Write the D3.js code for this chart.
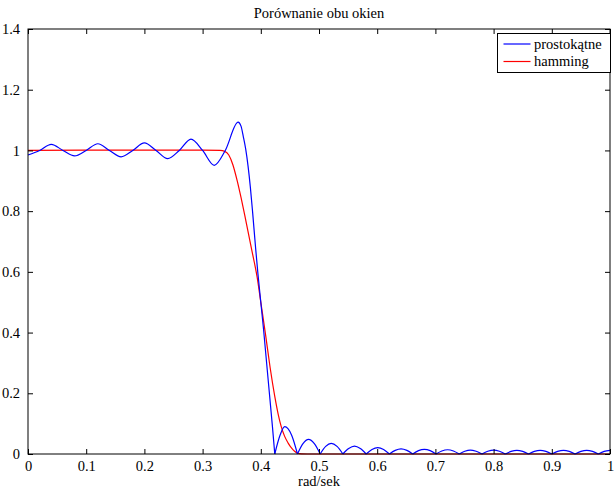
<!DOCTYPE html>
<html>
<head>
<meta charset="utf-8">
<script src="https://cdn.jsdelivr.net/npm/d3@7"></script>
<style>
  html, body { margin: 0; padding: 0; background: #fff; }
  svg { display: block; }
  text { font-family: "Liberation Serif", "Times New Roman", serif; fill: #000; }
</style>
</head>
<body>
<div id="chart"></div>
<script>
// Frequency response magnitude: rectangular window vs. Hamming window
const titleText = "Porównanie obu okien";
const xLabelText = "rad/sek";
const seriesNames = ["prostokątne", "hamming"];

const xTicks = [0, 0.1, 0.2, 0.3, 0.4, 0.5, 0.6, 0.7, 0.8, 0.9, 1];
const xTickLabels = ["0", "0.1", "0.2", "0.3", "0.4", "0.5", "0.6", "0.7", "0.8", "0.9", "1"];
const yTicks = [0, 0.2, 0.4, 0.6, 0.8, 1, 1.2, 1.4];
const yTickLabels = ["0", "0.2", "0.4", "0.6", "0.8", "1", "1.2", "1.4"];

// rectangular window: [frequency, |H|]
const rectFreq = [
  0.000, 0.020, 0.040, 0.060, 0.080, 0.100, 0.120, 0.140, 0.160, 0.180,
  0.200, 0.220, 0.240, 0.260, 0.280, 0.300, 0.320, 0.339, 0.361, 0.366,
  0.370, 0.374, 0.378, 0.382, 0.386, 0.391, 0.395, 0.400, 0.405, 0.410,
  0.415, 0.420, 0.424,
  0.4335, 0.441, 0.453, 0.463,
  0.4725, 0.482, 0.492, 0.502,
  0.5115, 0.521, 0.531, 0.541,
  0.551, 0.561, 0.571, 0.581,
  0.591, 0.601, 0.611, 0.621,
  0.631, 0.641, 0.651, 0.661,
  0.671, 0.681, 0.691, 0.701,
  0.711, 0.721, 0.731, 0.741,
  0.7505, 0.760, 0.770, 0.780,
  0.790, 0.800, 0.810, 0.820,
  0.830, 0.840, 0.850, 0.860,
  0.870, 0.880, 0.890, 0.900,
  0.910, 0.920, 0.930, 0.940,
  0.950, 0.960, 0.970, 0.980,
  0.990, 1.000
];
const rectMag = [
  0.985, 1.000, 1.020, 1.000, 0.982, 1.000, 1.022, 1.000, 0.979, 1.000,
  1.025, 1.000, 0.973, 1.000, 1.037, 1.000, 0.951, 1.000, 1.093, 1.080,
  1.045, 1.005, 0.950, 0.880, 0.795, 0.680, 0.595, 0.500, 0.405, 0.300,
  0.195, 0.090, 0.000,
  0.064, 0.090, 0.062, 0.000,
  0.034, 0.048, 0.034, 0.000,
  0.025, 0.035, 0.025, 0.000,
  0.018, 0.026, 0.018, 0.000,
  0.015, 0.021, 0.015, 0.000,
  0.012, 0.017, 0.012, 0.000,
  0.011, 0.015, 0.011, 0.000,
  0.010, 0.014, 0.010, 0.000,
  0.009, 0.013, 0.009, 0.000,
  0.009, 0.013, 0.009, 0.000,
  0.0085, 0.012, 0.0085, 0.000,
  0.0085, 0.012, 0.0085, 0.000,
  0.0085, 0.012, 0.0085, 0.000,
  0.0085, 0.012, 0.0085, 0.000,
  0.0085, 0.012
];

// Hamming window: [frequency, |H|]
const hammFreq = [
  0.000, 0.100, 0.200, 0.300, 0.330, 0.338, 0.345, 0.352, 0.3597, 0.366,
  0.3723, 0.378, 0.3838, 0.389, 0.3935, 0.400, 0.4084, 0.416, 0.424, 0.430,
  0.435, 0.441, 0.447, 0.453, 0.458, 0.463, 0.470, 0.480, 1.000
];
const hammMag = [
  1.000, 1.001, 1.001, 1.001, 1.000, 0.997, 0.985, 0.953, 0.898, 0.845,
  0.788, 0.733, 0.678, 0.630, 0.585, 0.500, 0.390, 0.285, 0.190, 0.130,
  0.091, 0.058, 0.036, 0.019, 0.009, 0.003, 0.0005, 0.000, 0.000
];

const W = 614, H = 488;
const margin = { left: 28, right: 4, top: 29, bottom: 34 };

const svg = d3.select("#chart").append("svg")
  .attr("width", W).attr("height", H);

const x = d3.scaleLinear().domain([0, 1]).range([margin.left, W - margin.right]);
const y = d3.scaleLinear().domain([0, 1.4]).range([H - margin.bottom, margin.top]);

const fontSize = 14.5;
const tickLen = 5;

// series lines
const rectPts = rectFreq.map((f, i) => [f, rectMag[i]]);
const hammPts = hammFreq.map((f, i) => [f, hammMag[i]]);

// break the rectangular-window curve at its nulls so they stay sharp
function splitAtNulls(pts) {
  const segs = [];
  let cur = [];
  pts.forEach((p, i) => {
    cur.push(p);
    if (p[1] === 0 && i > 0 && i < pts.length - 1) {
      segs.push(cur);
      cur = [p];
    }
  });
  if (cur.length > 1) segs.push(cur);
  return segs;
}

const line = d3.line()
  .x(d => x(d[0]))
  .y(d => y(d[1]))
  .curve(d3.curveMonotoneX);

const plot = svg.append("g");

plot.append("path")
  .datum(hammPts)
  .attr("d", line)
  .attr("fill", "none")
  .attr("stroke", "#ff0000")
  .attr("stroke-width", 1.2);

plot.selectAll("path.rect")
  .data(splitAtNulls(rectPts))
  .join("path")
  .attr("class", "rect")
  .attr("d", line)
  .attr("fill", "none")
  .attr("stroke", "#0000ff")
  .attr("stroke-width", 1.2);

// axes (inward ticks on all four sides)
const axisB = d3.axisBottom(x).tickValues(xTicks)
  .tickFormat((d, i) => xTickLabels[i]).tickSize(-tickLen).tickPadding(6.5);
const axisT = d3.axisTop(x).tickValues(xTicks)
  .tickFormat("").tickSize(-tickLen);
const axisL = d3.axisLeft(y).tickValues(yTicks)
  .tickFormat((d, i) => yTickLabels[i]).tickSize(-tickLen).tickPadding(8);
const axisR = d3.axisRight(y).tickValues(yTicks)
  .tickFormat("").tickSize(-tickLen);

function styleAxis(g) {
  g.select(".domain").remove();
  g.selectAll(".tick line").attr("stroke", "#000").attr("stroke-width", 1);
  g.selectAll(".tick text")
    .attr("font-family", "Liberation Serif, Times New Roman, serif")
    .attr("font-size", fontSize)
    .attr("fill", "#000");
}

svg.append("g").attr("transform", `translate(0,${y(0)})`).call(axisB).call(styleAxis);
svg.append("g").attr("transform", `translate(0,${y(1.4)})`).call(axisT).call(styleAxis);
svg.append("g").attr("transform", `translate(${x(0)},0)`).call(axisL).call(styleAxis);
svg.append("g").attr("transform", `translate(${x(1)},0)`).call(axisR).call(styleAxis);

// plot frame
svg.append("rect")
  .attr("x", x(0)).attr("y", y(1.4))
  .attr("width", x(1) - x(0)).attr("height", y(0) - y(1.4))
  .attr("fill", "none").attr("stroke", "#000").attr("stroke-width", 1);

// title and axis label
svg.append("text")
  .attr("x", (x(0) + x(1)) / 2).attr("y", 17.5)
  .attr("text-anchor", "middle").attr("font-size", fontSize)
  .text(titleText);

svg.append("text")
  .attr("x", (x(0) + x(1)) / 2).attr("y", 485.5)
  .attr("text-anchor", "middle").attr("font-size", fontSize)
  .text(xLabelText);

// legend
const lg = svg.append("g");
const lgX = 497.5, lgY = 33.5, lgW = 113, lgH = 39;
lg.append("rect")
  .attr("x", lgX).attr("y", lgY).attr("width", lgW).attr("height", lgH)
  .attr("fill", "#fff").attr("stroke", "#000").attr("stroke-width", 1);
const lgColors = ["#0000ff", "#ff0000"];
seriesNames.forEach((name, i) => {
  const ly = lgY + 10.5 + i * 17.5;
  lg.append("line")
    .attr("x1", lgX + 6).attr("x2", lgX + 33)
    .attr("y1", ly).attr("y2", ly)
    .attr("stroke", lgColors[i]).attr("stroke-width", 1.2);
  lg.append("text")
    .attr("x", lgX + 36.5).attr("y", ly + 4.5)
    .attr("font-size", fontSize)
    .text(name);
});
</script>
</body>
</html>
